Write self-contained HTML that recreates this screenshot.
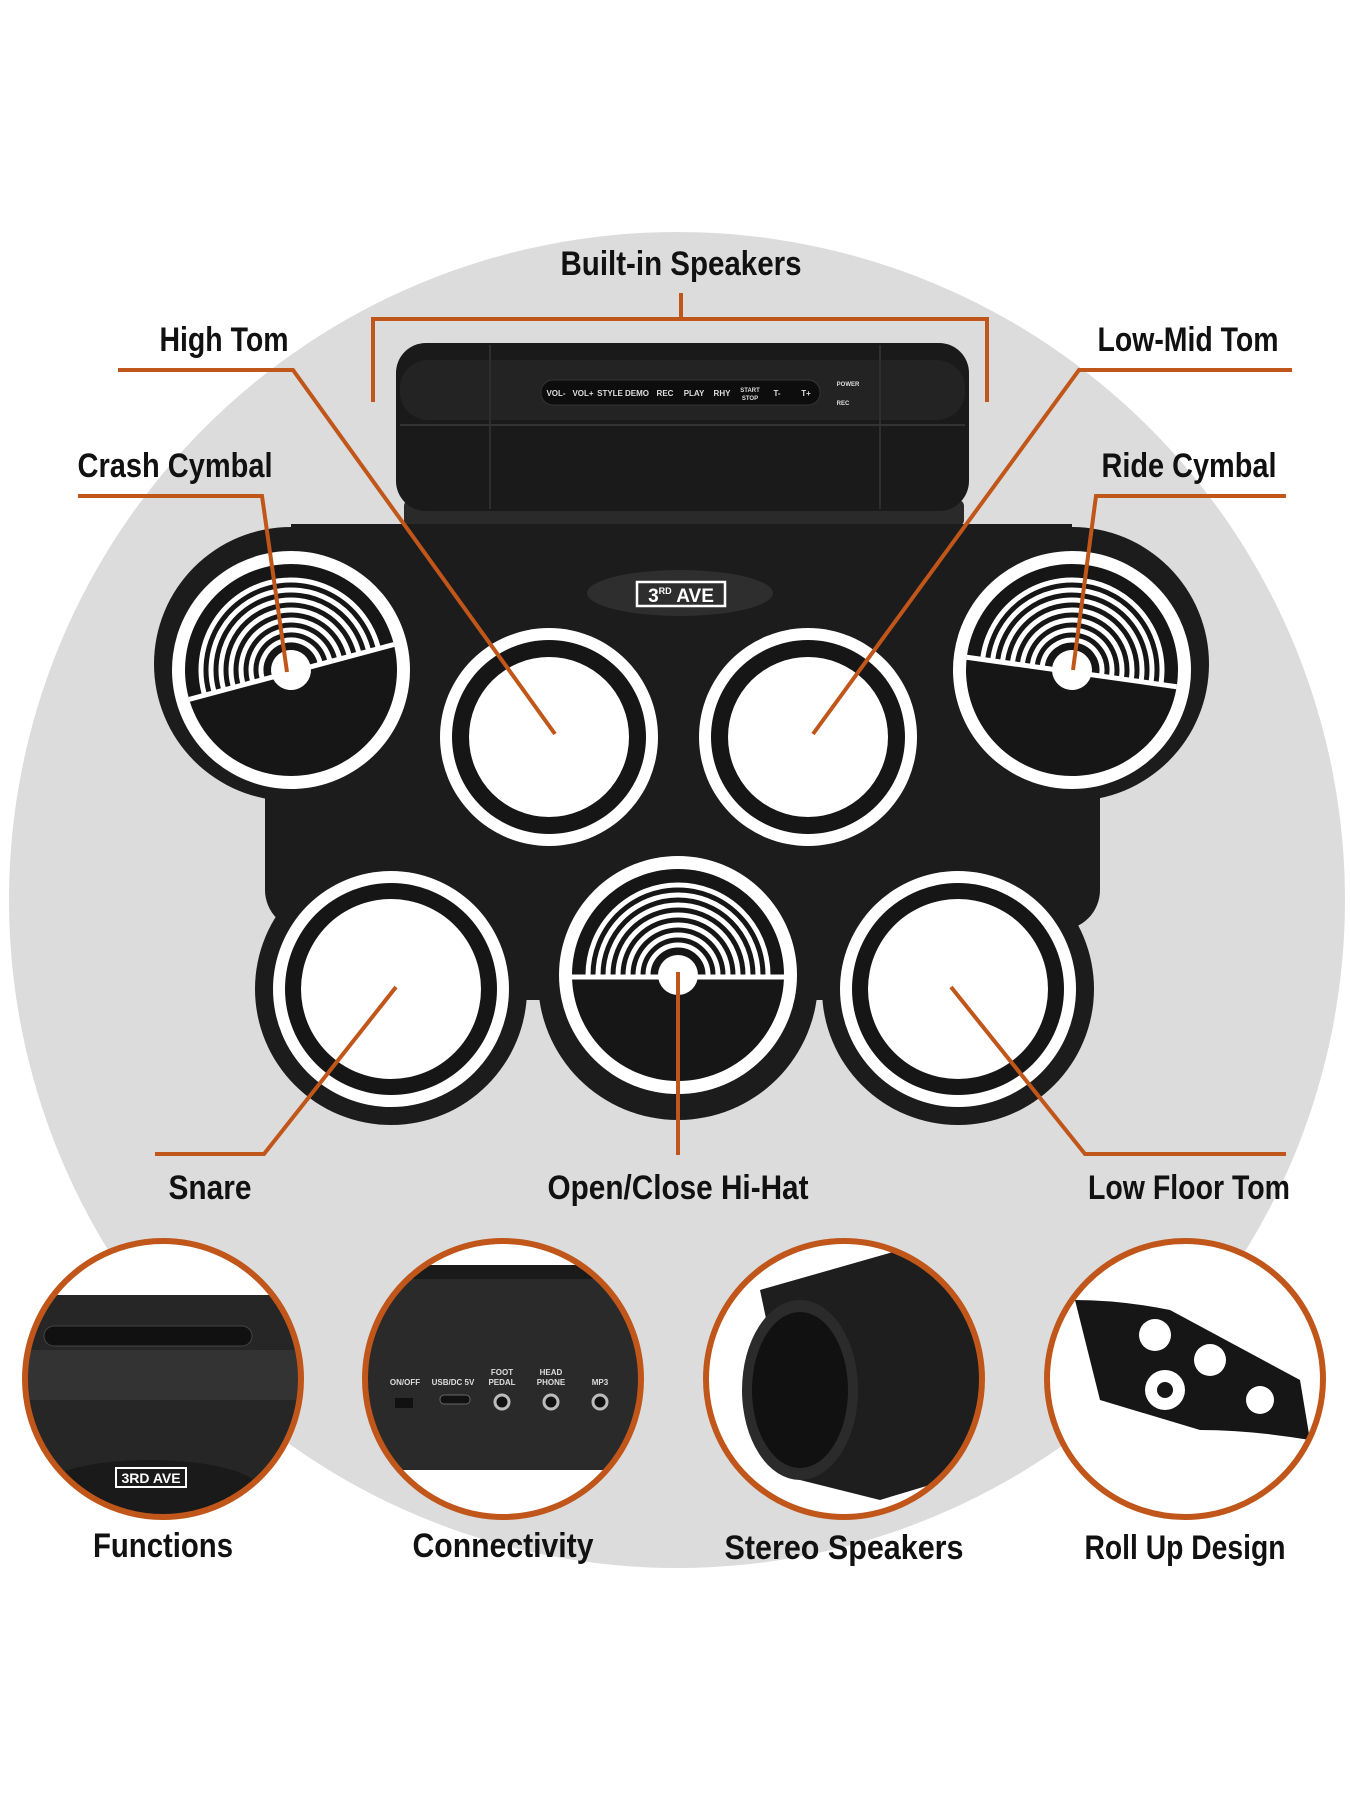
<!DOCTYPE html>
<html><head><meta charset="utf-8"><style>
html,body{margin:0;padding:0;background:#fff;}
svg{display:block;}
.lb{font-family:"Liberation Sans",sans-serif;font-weight:bold;font-size:34px;fill:#111;}
.bt{font-family:"Liberation Sans",sans-serif;font-weight:bold;font-size:8px;fill:#ddd;}
</style></head><body>
<svg width="1350" height="1800" viewBox="0 0 1350 1800" xmlns="http://www.w3.org/2000/svg">
<defs>
<g id="cym">
  <circle r="119" fill="#fff"/>
  <circle r="106" fill="#161616"/>
  <clipPath id="cc"><rect x="-110" y="-110" width="220" height="110"/></clipPath>
  <g clip-path="url(#cc)" fill="none" stroke="#fff" stroke-width="5">
    <circle r="30"/><circle r="40"/><circle r="50"/><circle r="60"/><circle r="70"/><circle r="80"/><circle r="90"/>
  </g>
  <line x1="-106" y1="2" x2="106" y2="2" stroke="#fff" stroke-width="5"/>
  <circle r="20" fill="#fff"/>
</g>
<g id="tom">
  <circle r="109" fill="#fff"/>
  <circle r="97" fill="#161616"/>
  <circle r="80" fill="#fff"/>
</g>
<g id="tomL">
  <circle r="118" fill="#fff"/>
  <circle r="106" fill="#161616"/>
  <circle r="90" fill="#fff"/>
</g>
</defs>
<rect width="1350" height="1800" fill="#fff"/>
<circle cx="677" cy="900" r="668" fill="#dcdcdc"/>

<!-- speaker bar -->
<rect x="404" y="500" width="560" height="26" rx="6" fill="#2a2a2a"/>
<rect x="396" y="343" width="573" height="168" rx="30" fill="#1a1a1a"/>
<rect x="400" y="360" width="565" height="60" rx="28" fill="#232323"/>
<line x1="490" y1="345" x2="490" y2="509" stroke="#2e2e2e" stroke-width="2"/>
<line x1="880" y1="345" x2="880" y2="509" stroke="#2e2e2e" stroke-width="2"/>
<line x1="400" y1="425" x2="965" y2="425" stroke="#333" stroke-width="2"/>
<rect x="541" y="380" width="279" height="25" rx="12" fill="#0d0d0d" stroke="#333"/>
<g class="bt" text-anchor="middle">
<text x="556" y="396">VOL-</text><text x="583" y="396">VOL+</text><text x="610" y="396">STYLE</text><text x="637" y="396">DEMO</text><text x="665" y="396">REC</text><text x="694" y="396">PLAY</text><text x="722" y="396">RHY</text><text x="750" y="392" font-size="6">START</text><text x="750" y="400" font-size="6">STOP</text><text x="777" y="396">T-</text><text x="806" y="396">T+</text>
<text x="848" y="386" font-size="6">POWER</text><text x="843" y="405" font-size="6">REC</text>
</g>

<!-- mat -->
<g fill="#1c1c1c">
  <rect x="291" y="524" width="781" height="200"/>
  <rect x="265" y="600" width="835" height="330" rx="40"/>
  <rect x="320" y="700" width="720" height="300" rx="30"/>
  <circle cx="291" cy="664" r="137"/>
  <circle cx="1072" cy="664" r="137"/>
  <circle cx="391" cy="989" r="136"/>
  <circle cx="678" cy="980" r="140"/>
  <circle cx="958" cy="989" r="136"/>
</g>
<ellipse cx="680" cy="593" rx="93" ry="23" fill="#2e2e2e"/>
<rect x="637" y="582" width="88" height="24" fill="none" stroke="#fff" stroke-width="2.5"/>
<text x="681" y="602" text-anchor="middle" font-family="Liberation Sans,sans-serif" font-weight="bold" font-size="19" fill="#fff">3<tspan font-size="9" dy="-8">RD</tspan><tspan dy="8"> AVE</tspan></text>

<use href="#cym" transform="translate(291,670) rotate(-15)"/>
<use href="#cym" transform="translate(1072,670) rotate(8)"/>
<use href="#cym" transform="translate(678,975)"/>
<use href="#tom" x="549" y="737"/>
<use href="#tom" x="808" y="737"/>
<use href="#tomL" x="391" y="989"/>
<use href="#tomL" x="958" y="989"/>

<!-- connectors -->
<g stroke="#c0561a" stroke-width="4" fill="none" stroke-linejoin="miter">
  <path d="M681 293 V319 M373 402 V319 H987 V402"/>
  <path d="M118 370 H293 L555 734"/>
  <path d="M78 496 H262 L287 672"/>
  <path d="M1292 370 H1079 L813 734"/>
  <path d="M1286 496 H1096 L1073 670"/>
  <path d="M155 1154 H264 L396 987"/>
  <path d="M678 972 V1155"/>
  <path d="M1286 1154 H1085 L951 987"/>
</g>

<!-- labels -->
<g class="lb" text-anchor="middle">
<text x="681" y="275" textLength="241" lengthAdjust="spacingAndGlyphs">Built-in Speakers</text>
<text x="224" y="351" textLength="129" lengthAdjust="spacingAndGlyphs">High Tom</text>
<text x="175" y="477" textLength="195" lengthAdjust="spacingAndGlyphs">Crash Cymbal</text>
<text x="1188" y="351" textLength="181" lengthAdjust="spacingAndGlyphs">Low-Mid Tom</text>
<text x="1189" y="477" textLength="175" lengthAdjust="spacingAndGlyphs">Ride Cymbal</text>
<text x="210" y="1199" textLength="83" lengthAdjust="spacingAndGlyphs">Snare</text>
<text x="678" y="1199" textLength="261" lengthAdjust="spacingAndGlyphs">Open/Close Hi-Hat</text>
<text x="1189" y="1199" textLength="202" lengthAdjust="spacingAndGlyphs">Low Floor Tom</text>
<text x="163" y="1557" textLength="140" lengthAdjust="spacingAndGlyphs">Functions</text>
<text x="503" y="1557" textLength="181" lengthAdjust="spacingAndGlyphs">Connectivity</text>
<text x="844" y="1559" textLength="239" lengthAdjust="spacingAndGlyphs">Stereo Speakers</text>
<text x="1185" y="1559" textLength="201" lengthAdjust="spacingAndGlyphs">Roll Up Design</text>
</g>

<!-- bottom circles -->
<clipPath id="c1"><circle cx="163" cy="1379" r="138"/></clipPath>
<clipPath id="c2"><circle cx="503" cy="1379" r="138"/></clipPath>
<clipPath id="c3"><circle cx="844" cy="1379" r="138"/></clipPath>
<clipPath id="c4"><circle cx="1185" cy="1379" r="138"/></clipPath>
<g clip-path="url(#c1)">
  <rect x="20" y="1240" width="290" height="280" fill="#fff"/>
  <rect x="20" y="1295" width="290" height="230" fill="#262626"/>
  <rect x="20" y="1350" width="290" height="50" fill="#333"/>
  <rect x="44" y="1326" width="208" height="20" rx="10" fill="#111" stroke="#444"/>
  <ellipse cx="150" cy="1490" rx="110" ry="30" fill="#1a1a1a"/>
  <rect x="116" y="1468" width="70" height="19" fill="none" stroke="#fff" stroke-width="2"/>
  <text x="151" y="1483" text-anchor="middle" font-family="Liberation Sans,sans-serif" font-weight="bold" font-size="14" fill="#fff">3RD AVE</text>
</g>
<g clip-path="url(#c2)">
  <rect x="360" y="1240" width="290" height="280" fill="#fff"/>
  <rect x="360" y="1265" width="290" height="205" fill="#2a2a2a"/>
  <rect x="360" y="1265" width="290" height="14" fill="#1a1a1a"/>
  <g font-family="Liberation Sans,sans-serif" font-weight="bold" font-size="8" fill="#ddd" text-anchor="middle">
  <text x="405" y="1385">ON/OFF</text><text x="453" y="1385">USB/DC 5V</text><text x="502" y="1375">FOOT</text><text x="502" y="1385">PEDAL</text><text x="551" y="1375">HEAD</text><text x="551" y="1385">PHONE</text><text x="600" y="1385">MP3</text></g>
  <rect x="395" y="1398" width="18" height="10" fill="#111"/>
  <rect x="440" y="1395" width="30" height="9" rx="4" fill="#111" stroke="#666"/>
  <circle cx="502" cy="1402" r="7" fill="#111" stroke="#bbb" stroke-width="3"/>
  <circle cx="551" cy="1402" r="7" fill="#111" stroke="#bbb" stroke-width="3"/>
  <circle cx="600" cy="1402" r="7" fill="#111" stroke="#bbb" stroke-width="3"/>
</g>
<g clip-path="url(#c3)">
  <rect x="700" y="1240" width="290" height="280" fill="#fff"/>
  <path d="M760 1290 L900 1250 L980 1260 L980 1470 L880 1500 L800 1480 Z" fill="#1e1e1e"/>
  <ellipse cx="800" cy="1390" rx="58" ry="90" fill="#2b2b2b"/>
  <ellipse cx="800" cy="1390" rx="48" ry="78" fill="#111"/>
</g>
<g clip-path="url(#c4)">
  <rect x="1040" y="1240" width="290" height="280" fill="#fff"/>
  <path d="M1075 1300 Q1120 1300 1170 1310 L1300 1380 L1310 1440 Q1250 1430 1200 1430 L1100 1400 Z" fill="#161616"/>
  <circle cx="1155" cy="1335" r="16" fill="#fff"/>
  <circle cx="1210" cy="1360" r="16" fill="#fff"/>
  <circle cx="1165" cy="1390" r="20" fill="#fff"/>
  <circle cx="1165" cy="1390" r="8" fill="#161616"/>
  <circle cx="1260" cy="1400" r="14" fill="#fff"/>
</g>
<g fill="none" stroke="#c0561a" stroke-width="6">
  <circle cx="163" cy="1379" r="138"/>
  <circle cx="503" cy="1379" r="138"/>
  <circle cx="844" cy="1379" r="138"/>
  <circle cx="1185" cy="1379" r="138"/>
</g>
</svg>
</body></html>
